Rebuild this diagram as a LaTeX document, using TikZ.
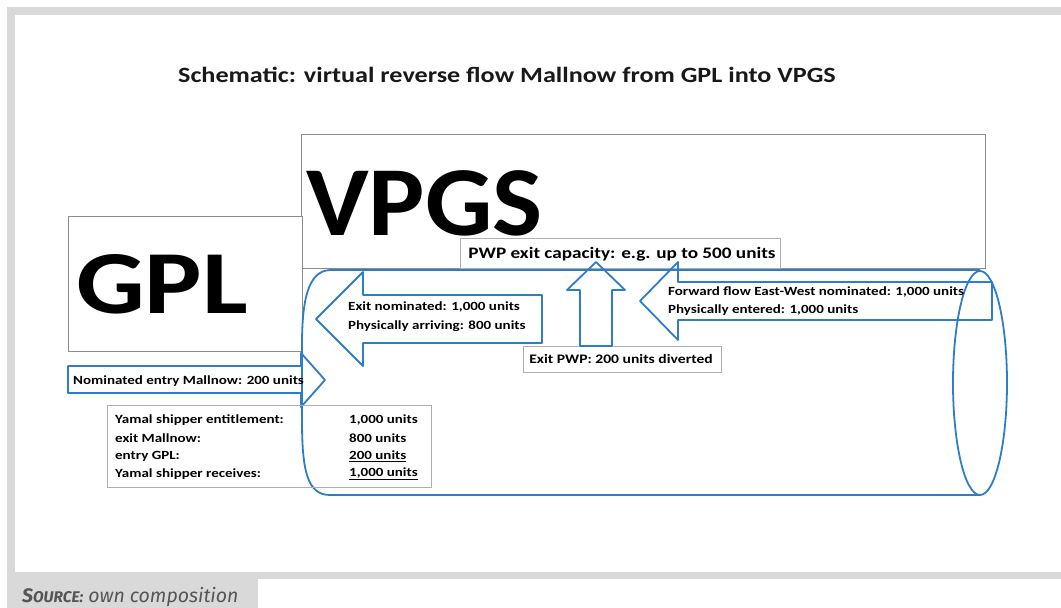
\documentclass[tikz,border=0pt]{standalone}
\usepackage{fontspec}
\setmainfont{Carlito}[FakeStretch = 1.2]
\newfontfamily\vpgsfont{Carlito}[FakeStretch = 1.07]
\newfontfamily\srcfont{Fira Sans}

\definecolor{pipeblue}{RGB}{46,125,200}
\definecolor{framegray}{RGB}{217,217,217}
\definecolor{boxgray}{RGB}{140,140,140}
\definecolor{srcgray}{RGB}{85,85,85}

\tikzset{
	pipe/.style = {pipeblue, line width = 1.8pt, line join = round},
	graybox/.style = {draw = boxgray, line width = 1pt},
	lightbox/.style = {draw = boxgray!70, line width = 1pt, fill = white},
	smalltxt/.style = {font = \fontsize{12.5}{18}\selectfont\bfseries, inner sep = 0pt, anchor = west},
	bigtxt/.style = {inner sep = 0pt, anchor = base west}
}

\begin{document}
\begin{tikzpicture}[x = 1pt, y = -1pt]

	% Page frame and source label

	\useasboundingbox (0, 0) rectangle (1061, 608);
	\fill [white] (0, 0) rectangle (1061, 608);
	\fill [framegray] (7, 7) rectangle (1061, 579);
	\fill [white] (15, 15) rectangle (1061, 572);
	\fill [framegray] (7, 579) rectangle (258, 608);

	\node [anchor = base west, inner sep = 0pt, text = srcgray] (source) at (22, 602)
		{\srcfont\fontsize{19.5}{20}\selectfont\itshape\textbf{S\fontsize{15.5}{20}\selectfont OURCE:} own composition};

	% Title

	\node [font = \fontsize{21.8}{22}\selectfont\bfseries, text = black!90] (title) at (507, 75)
		{Schematic: virtual reverse flow Mallnow from GPL into VPGS};

	% Network boxes

	\draw [graybox, fill = white] (301, 134) rectangle (985, 268);
	\node [bigtxt, font = \vpgsfont\fontsize{99}{99}\selectfont\bfseries] (vpgs) at (306, 235) {VPGS};

	\draw [graybox, fill = white] (68, 216) rectangle (302, 351);
	\node [bigtxt, font = \fontsize{90}{90}\selectfont\bfseries] (gpl) at (76, 313) {GPL};

	\draw [lightbox] (460, 238) rectangle (780, 268);
	\node [font = \fontsize{16}{16}\selectfont\bfseries, inner sep = 0pt] (capacity) at (622, 254)
		{PWP exit capacity: e.g. up to 500 units};

	\draw [lightbox] (523, 346) rectangle (721, 372);
	\node [smalltxt, anchor = center, font = \fontsize{13}{18}\selectfont\bfseries] (diverted) at (621, 359)
		{Exit PWP: 200 units diverted};

	% Pipeline drawn as a cylinder

	\draw [pipe] (980, 270) -- (330, 270)
		.. controls (308, 271) and (302, 300) .. (302, 345)
		-- (302, 420)
		.. controls (302, 470) and (307, 495) .. (330, 495)
		-- (980, 495);
	\draw [pipe] (980, 383) ellipse [x radius = 27pt, y radius = 112pt];

	% Flow arrows

	\draw [pipe] (542, 295) -- (363, 295) -- (363, 272) -- (316, 319)
		-- (363, 366) -- (363, 343) -- (542, 343) -- cycle;
	\node [smalltxt] (exitnom) at (348, 307) {Exit nominated: 1,000 units};
	\node [smalltxt] (arriving) at (348, 326) {Physically arriving: 800 units};

	\draw [pipe] (992, 282) -- (678, 282) -- (678, 262) -- (640, 301)
		-- (678, 340) -- (678, 320) -- (992, 320) -- cycle;
	\node [smalltxt] (forward) at (668, 292) {Forward flow East-West nominated: 1,000 units};
	\node [smalltxt] (entered) at (668, 310) {Physically entered: 1,000 units};

	\draw [pipe] (596, 262) -- (625, 290) -- (612, 290) -- (612, 346)
		-- (580, 346) -- (580, 290) -- (567, 290) -- cycle;

	\draw [pipe] (68, 366) -- (301, 366) -- (301, 353) -- (325, 380)
		-- (301, 407) -- (301, 393) -- (68, 393) -- cycle;
	\node [smalltxt] (entry) at (73, 381) {Nominated entry Mallnow: 200 units};

	% Yamal shipper balance

	\draw [lightbox, fill = none] (107, 405) rectangle (431, 487);
	\foreach \lab/\val/\y in {Yamal shipper entitlement:/1{,}000 units/420,
		exit Mallnow:/800 units/438, entry GPL:/\underline{200 units}/456,
		Yamal shipper receives:/\underline{1{,}000 units}/474}
		{
		\node [smalltxt] at (115, \y) {\lab};
		\node [smalltxt] at (349, \y) {\val};
		}

\end{tikzpicture}
\end{document}
